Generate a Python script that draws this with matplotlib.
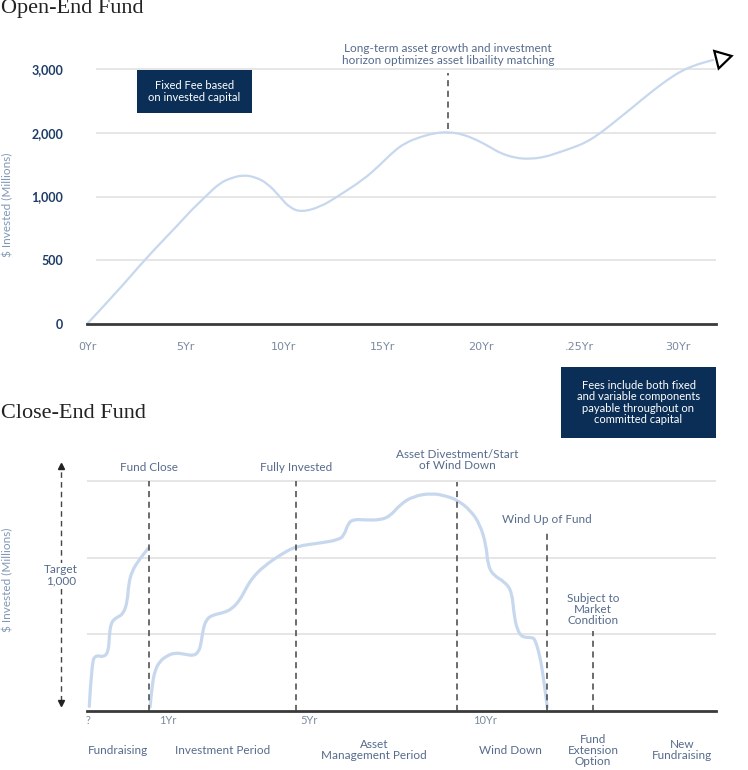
import numpy as np
import matplotlib
matplotlib.use('Agg')
import matplotlib.pyplot as plt
from matplotlib.patches import Rectangle, PathPatch
from matplotlib.path import Path

plt.rcParams['font.family'] = ['Lato', 'DejaVu Sans']

# ---- data: open-end fund ----
open_years = [0, 1.52, 3.05, 4.57, 6.09, 6.75, 7.31, 7.92, 8.53, 9.14, 9.80, 10.30,
              10.91, 11.83, 12.69, 14.01, 14.87, 15.53, 16.14, 16.90, 17.66, 18.32,
              19.04, 19.80, 20.46, 20.96, 21.73, 22.49, 23.25, 23.86, 24.62, 25.38,
              26.14, 26.90, 27.72, 28.58, 29.44, 30.25, 31.02, 31.78]
open_invested = [0, 251, 525, 769, 1024, 1212, 1290, 1337, 1306, 1212, 996, 910,
                 878, 918, 996, 1259, 1494, 1698, 1839, 1933, 1996, 2012,
                 1980, 1886, 1776, 1682, 1604, 1588, 1620, 1682, 1761, 1855,
                 2012, 2200, 2404, 2624, 2827, 2984, 3078, 3141]
open_yticks = [0, 500, 1000, 2000, 3000]
open_ytick_labels = ['0', '500', '1,000', '2,000', '3,000']
open_xticks = [0, 5, 10, 15, 20, 25, 30]
open_xtick_labels = ['0Yr', '5Yr', '10Yr', '15Yr', '20Yr', '.25Yr', '30Yr']

# ---- data: close-end fund ----
raise_years = [-1.21, -1.14, -1.02, -0.81, -0.67, -0.64, -0.60, -0.48, -0.25, -0.13,
               -0.10, -0.01, 0.23, 0.46]
raise_level = [0.06, 0.64, 0.73, 0.70, 0.77, 0.99, 1.14, 1.21, 1.26, 1.43,
               1.64, 1.82, 1.99, 2.12]
life_years = [0.51, 0.57, 0.65, 0.79, 0.99, 1.22, 1.50, 1.73, 1.87, 1.95, 2.01, 2.10,
              2.27, 2.58, 2.83, 3.06, 3.23, 3.40, 3.71, 4.28, 4.67, 5.33, 5.84, 6.01,
              6.12, 6.29, 6.60, 7.03, 7.31, 7.59, 7.96, 8.50, 8.92, 9.21, 9.58, 9.86,
              10.03, 10.08, 10.23, 10.57, 10.76, 10.82, 10.91, 11.05, 11.33, 11.42,
              11.56, 11.64, 11.70, 11.76]
life_level = [0.05, 0.34, 0.53, 0.65, 0.72, 0.76, 0.74, 0.72, 0.76, 0.86, 1.06, 1.19,
              1.25, 1.28, 1.33, 1.45, 1.60, 1.73, 1.88, 2.06, 2.15, 2.19, 2.23, 2.29,
              2.45, 2.50, 2.49, 2.49, 2.54, 2.69, 2.80, 2.84, 2.80, 2.75, 2.62, 2.43,
              2.16, 1.90, 1.77, 1.68, 1.55, 1.25, 1.06, 0.96, 0.96, 0.93,
              0.70, 0.47, 0.27, 0.05]
event_years = [0.48, 4.65, 9.21, 11.76, 13.06]
event_top = [3.0, 3.0, 2.99, 2.32, 1.04]
event_labels = ['Fund Close', 'Fully Invested', 'Asset Divestment/Start\nof Wind Down',
                'Wind Up of Fund', 'Subject to\nMarket\nCondition']
event_label_y = [3.18, 3.18, 3.27, 2.50, 1.32]
phase_labels = ['Fundraising', 'Investment Period', 'Asset\nManagement Period',
                'Wind Down', 'Fund\nExtension\nOption', 'New\nFundraising']
phase_x = [-0.40, 2.58, 6.86, 10.71, 13.06, 15.58]
close_xticks = [-1.25, 1, 5, 10]
close_xtick_labels = ['?', '1Yr', '5Yr', '10Yr']

NAVY = '#0b2e56'
CURVE = '#c7d8ee'
TXT = '#566b8c'
YLAB = '#8197b6'
GRID = '#e6e6e6'
BASE = '#3a3a3a'

fig = plt.figure(figsize=(7.48, 7.70), dpi=100)
W, H = 748, 770


def box(px0, py0, px1, py1):
    return [px0 / W, 1 - py1 / H, (px1 - px0) / W, (py1 - py0) / H]


def smooth_line(axis, xs, ys, lw):
    # quadratic bezier through the midpoints, the read points act as control points
    pts = list(zip(xs, ys))
    verts = [pts[0]]
    codes = [Path.MOVETO]
    for i in range(1, len(pts) - 1):
        mid = ((pts[i][0] + pts[i + 1][0]) / 2, (pts[i][1] + pts[i + 1][1]) / 2)
        verts += [pts[i], mid]
        codes += [Path.CURVE3, Path.CURVE3]
    verts.append(pts[-1])
    codes.append(Path.LINETO)
    patch = PathPatch(Path(verts, codes), facecolor='none', edgecolor=CURVE, lw=lw,
                      capstyle='round', joinstyle='round', zorder=2,
                      transform=axis.transData, clip_on=False)
    axis.add_patch(patch)


# ---------------- Open-End Fund ----------------
ax = fig.add_axes(box(87, 40, 716, 324))
levels = [-1000, 0, 500, 1000, 2000, 3000, 4000]
idx = [-2, 0, 1, 2, 3, 4, 5]
ax.set_yscale('function', functions=(lambda v: np.interp(v, levels, idx),
                                     lambda u: np.interp(u, idx, levels)))
ax.set_xlim(0, 31.93)
ax.set_ylim(0, 3455)
for s in ax.spines.values():
    s.set_visible(False)
for v in open_yticks[1:]:
    ax.axhline(v, xmin=0.016, color=GRID, lw=1.4, zorder=1)
ax.axhline(0, color=BASE, lw=2, zorder=3, clip_on=False)
smooth_line(ax, open_years, open_invested, 1.6)
ax.plot([32.18], [3165], marker=(3, 0, -76), ms=15, mfc='white', mec='black',
        mew=1.6, clip_on=False, zorder=4)
ax.set_yticks(open_yticks)
ax.set_yticklabels(open_ytick_labels, color='#1d3c68', fontsize=9, fontweight='bold')
ax.set_xticks(open_xticks)
ax.set_xticklabels(open_xtick_labels, color='#7b8aa0', fontsize=8,
                   family=['Liberation Sans Narrow', 'DejaVu Sans'])
ax.tick_params(axis='y', length=0, pad=17)
ax.tick_params(axis='x', length=0, pad=13)
ax.plot([18.32, 18.32], [2060, 2930], color='#444444', lw=1.1, ls=(0, (4, 3)), zorder=3)
ax.text(18.32, 3225, 'Long-term asset growth and investment\nhorizon optimizes asset libaility matching',
        ha='center', va='center', color=TXT, fontsize=8.5, linespacing=1.05)

fig.text(0.002, 1 - 8 / H, 'Open-End Fund', family='Liberation Serif', fontsize=16,
         ha='left', va='center', color='#222222')
fig.text(8 / W, 1 - 205 / H, '$ Invested (Millions)', rotation=90, ha='center',
         va='center', color=YLAB, fontsize=8.5)

r = box(137, 70, 252, 113)
fig.add_artist(Rectangle((r[0], r[1]), r[2], r[3], transform=fig.transFigure,
                         facecolor=NAVY, edgecolor='none'))
fig.text(194.5 / W, 1 - 91.5 / H, 'Fixed Fee based\non invested capital', ha='center',
         va='center', color='white', fontsize=8, linespacing=1.1)
r = box(561, 367, 716, 438)
fig.add_artist(Rectangle((r[0], r[1]), r[2], r[3], transform=fig.transFigure,
                         facecolor=NAVY, edgecolor='none'))
fig.text(638.5 / W, 1 - 402.5 / H,
         'Fees include both fixed\nand variable components\npayable throughout on\ncommitted capital',
         ha='center', va='center', color='white', fontsize=8, linespacing=1.05)

# ---------------- Close-End Fund ----------------
bx = fig.add_axes(box(87, 440, 716, 711))
bx.set_xlim(-1.275, 16.54)
bx.set_ylim(0, 3.533)
for s in bx.spines.values():
    s.set_visible(False)
for v in [1, 2, 3]:
    bx.axhline(v, color=GRID, lw=1.4, zorder=1)
bx.axhline(0, color=BASE, lw=2, zorder=3, clip_on=False)
smooth_line(bx, raise_years, raise_level, 2.3)
smooth_line(bx, life_years, life_level, 2.3)
for xv, top, lab, ly in zip(event_years, event_top, event_labels, event_label_y):
    bx.plot([xv, xv], [0, top], color='#444444', lw=1.1, ls=(0, (4, 3)), zorder=3)
    bx.text(xv, ly, lab, ha='center', va='center', color=TXT, fontsize=8.5,
            linespacing=1.0, clip_on=False)
for xv, lab in zip(phase_x, phase_labels):
    bx.text(xv, -0.51, lab, ha='center', va='center', color=TXT, fontsize=8.5,
            linespacing=1.0, clip_on=False)
bx.set_xticks(close_xticks)
bx.set_xticklabels(close_xtick_labels, color='#7b8aa0', fontsize=8)
bx.set_yticks([])
bx.tick_params(axis='x', length=0, pad=3)

# target arrow
bx.plot([-2.01, -2.01], [0.13, 3.19], color='#444444', lw=1.0, ls=(0, (4, 3)),
        clip_on=False)
bx.plot([-2.01], [3.2], marker='^', ms=5, color='#222222', clip_on=False)
bx.plot([-2.01], [0.11], marker='v', ms=5, color='#222222', clip_on=False)
bx.text(-2.01, 1.77, 'Target\n1,000', ha='center', va='center', color=TXT, fontsize=8.5,
        linespacing=1.0, clip_on=False,
        bbox=dict(facecolor='white', edgecolor='none', pad=1))

fig.text(0.002, 1 - 413 / H, 'Close-End Fund', family='Liberation Serif', fontsize=16,
         ha='left', va='center', color='#222222')
fig.text(8 / W, 1 - 580 / H, '$ Invested (Millions)', rotation=90, ha='center',
         va='center', color=YLAB, fontsize=8.5)

fig.savefig('out.png', dpi=100)
